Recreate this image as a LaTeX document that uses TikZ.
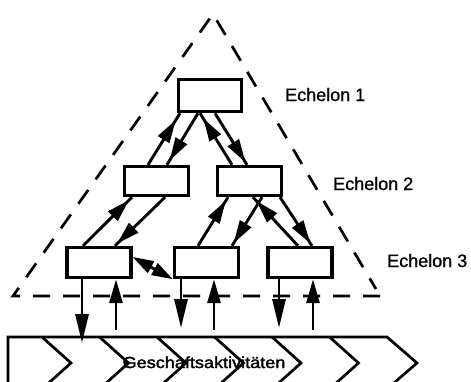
\documentclass[tikz,border=0pt]{standalone}
\usepackage{fontspec}
\setmainfont{Liberation Sans}
\newfontfamily\lblfont{Liberation Sans}[FakeBold=1]
\newfontfamily\bandfont{Liberation Sans}[FakeBold=2]
\usetikzlibrary{arrows.meta,decorations.markings}
\begin{document}
\begin{tikzpicture}[x=1pt,y=-1pt,
  box/.style={draw, line width=3.4pt, minimum width=64pt, minimum height=30pt, inner sep=0pt},
  conn/.style={line width=2.9pt},
  tip/.style={-{Triangle[length=24pt,width=13pt]}},
  longtip/.style={-{Triangle[length=29pt,width=13pt]}},
  midtip/.style={postaction={decorate}, decoration={markings, mark=at position #1 with {\arrow{Triangle[length=23pt,width=13pt]}}}},
  lbl/.style={font=\lblfont\fontsize{18}{20}\selectfont, anchor=base west, inner sep=0pt},
  guide/.style={line width=2.7pt, dash pattern=on 17pt off 13pt},
  band/.style={line width=2.7pt, line join=miter}
]
\useasboundingbox (0,0) rectangle (471,381);
\clip (0,0) rectangle (471,381);

% dashed triangle
\draw[guide] (380,296) -- (13,296) -- (213,14) -- (376,289);

% boxes
\node[box, minimum width=63pt, minimum height=32pt] (e1) at (210,95.5) {};
\node[box, minimum height=29pt] (e2l) at (156.5,181) {};
\node[box, minimum height=29pt] (e2r) at (249.5,181) {};
\node[box] (e3l) at (99,262.5) {};
\node[box] (e3m) at (206.5,262.5) {};
\node[box] (e3r) at (300,262.5) {};

% labels
\node[lbl] (l1) at (285,101) {Echelon 1};
\node[lbl] (l2) at (333,190) {Echelon 2};
\node[lbl] (l3) at (387,267) {Echelon 3};

% echelon 1 <-> 2
\draw[conn, midtip=-8pt] ([xshift=-8.5pt]e2l.north) -- ([xshift=-30pt]e1.south);
\draw[conn, midtip=-5pt] ([xshift=-12pt]e1.south) -- ([xshift=10.5pt]e2l.north);
\draw[conn, midtip=-6pt] ([xshift=-17.5pt]e2r.north) -- ([xshift=-10pt]e1.south);
\draw[conn, midtip=-3pt] ([xshift=5pt]e1.south) -- ([xshift=-2.5pt]e2r.north);

% echelon 2 <-> 3
\draw[conn, midtip=-4pt] ([xshift=-16pt]e3l.north) -- ([xshift=-24.5pt]e2l.south);
\draw[conn, midtip=-3pt] ([xshift=8.5pt]e2l.south) -- ([xshift=16pt]e3l.north);
\draw[conn, midtip=-4pt] ([xshift=-8.5pt]e3m.north) -- ([xshift=-21.5pt]e2r.south);
\draw[conn, midtip=-3pt] ([xshift=12.5pt]e2r.south) -- ([xshift=25.5pt]e3m.north);
\draw[conn, midtip=-5pt] ([xshift=-2pt]e3r.north) -- ([xshift=3.5pt]e2r.south);
\draw[conn, midtip=-3pt] ([xshift=30.5pt]e2r.south) -- ([xshift=12pt]e3r.north);

% within echelon 3
\draw[conn, {Triangle[length=21pt,width=13pt]}-{Triangle[length=21pt,width=13pt]}] ([yshift=5.5pt]e3l.east) -- (e3m.south west);

% to / from business activities
\coordinate (d1) at (82,343);
\coordinate (u1) at (116,330);
\coordinate (d2) at (181,328);
\coordinate (u2) at (214,330);
\coordinate (d3) at (279,328);
\coordinate (u3) at (313,330);
\draw[conn, longtip] ([xshift=-17pt]e3l.south) -- (d1);
\draw[conn, tip] (u1) -- ([xshift=17pt]e3l.south);
\draw[conn, longtip] ([xshift=-25.5pt]e3m.south) -- (d2);
\draw[conn, tip] (u2) -- ([xshift=7.5pt]e3m.south);
\draw[conn, longtip] ([xshift=-21pt]e3r.south) -- (d3);
\draw[conn, tip] (u3) -- ([xshift=13pt]e3r.south);

% chevron band
\draw[band] (8,385) -- (8,337) -- (387,337) -- (417,363) -- (387,389);
\foreach \x in {42,99.5,157,214.5,272,329.5}
  \draw[band] (\x,337) -- ++(29,26) -- ++(-29,26);

\node[anchor=base, inner sep=0pt] (ga) at (204,368) {\bandfont\fontsize{16}{16}\selectfont\scalebox{1.13}[1]{Geschaftsaktivitäten}};
\end{tikzpicture}
\end{document}
